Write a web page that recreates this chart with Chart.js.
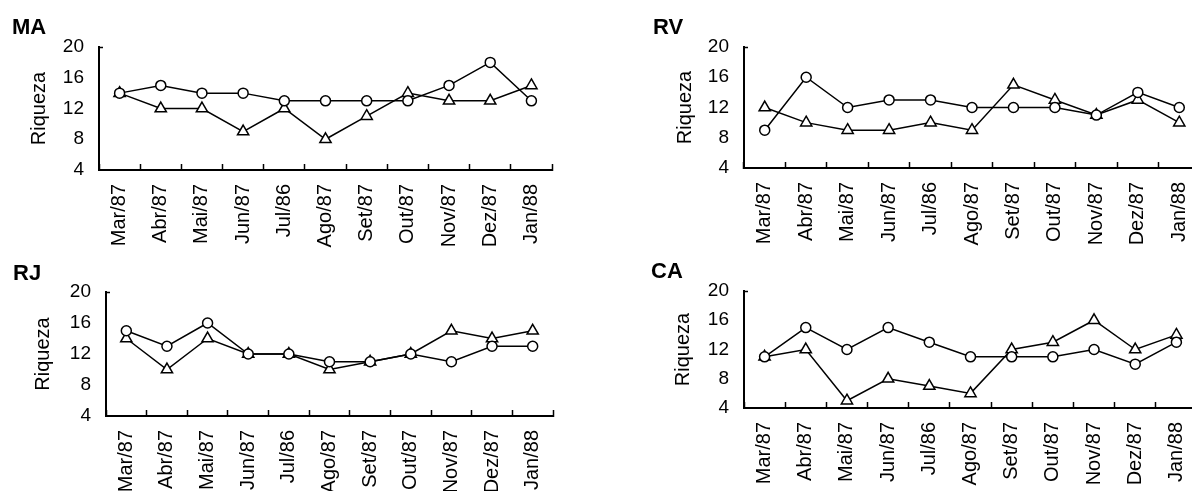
<!DOCTYPE html>
<html>
<head>
<meta charset="utf-8">
<script src="https://cdn.jsdelivr.net/npm/chart.js"></script>
<style>
  html, body { margin: 0; padding: 0; background: #fff; overflow: hidden; }
  body { width: 1192px; height: 491px; position: relative; }
  canvas { position: absolute; }
</style>
</head>
<body>
<canvas id="ma"></canvas>
<canvas id="rv"></canvas>
<canvas id="rj"></canvas>
<canvas id="ca"></canvas>
<script>
// meses de coleta (eixo X)
const meses = ["Mar/87", "Abr/87", "Mai/87", "Jun/87", "Jul/86", "Ago/87", "Set/87", "Out/87", "Nov/87", "Dez/87", "Jan/88"];
const ticksRiqueza = [4, 8, 12, 16, 20];

// riqueza por local: série com círculos e série com triângulos
const maCirculo   = [14, 15, 14, 14, 13, 13, 13, 13, 15, 18, 13];
const maTriangulo = [14, 12, 12, 9, 12, 8, 11, 14, 13, 13, 15];

const rvCirculo   = [9, 16, 12, 13, 13, 12, 12, 12, 11, 14, 12];
const rvTriangulo = [12, 10, 9, 9, 10, 9, 15, 13, 11, 13, 10];

const rjCirculo   = [15, 13, 16, 12, 12, 11, 11, 12, 11, 13, 13];
const rjTriangulo = [14, 10, 14, 12, 12, 10, 11, 12, 15, 14, 15];

const caCirculo   = [11, 15, 12, 15, 13, 11, 11, 11, 12, 10, 13];
const caTriangulo = [11, 12, 5, 8, 7, 6, 12, 13, 16, 12, 14];

const FONTE = "'Liberation Sans', Arial, Helvetica, sans-serif";

// posição de cada painel na página
const paineis = [
    { id: 'ma', titulo: 'MA', circulo: maCirculo, triangulo: maTriangulo,
      x: 0, y: 0, w: 560, h: 250, padL: 12, padTop: 14.3, gapTitulo: 6.3, yLarg: 87, yTitPad: 15, xAlt: 80 },
    { id: 'rv', titulo: 'RV', circulo: rvCirculo, triangulo: rvTriangulo,
      x: 650, y: 0, w: 558, h: 250, padL: 3, padTop: 14.3, gapTitulo: 6.3, yLarg: 91, yTitPad: 20, xAlt: 82 },
    { id: 'rj', titulo: 'RJ', circulo: rjCirculo, triangulo: rjTriangulo,
      x: 0, y: 250, w: 561, h: 241, padL: 13, padTop: 10.3, gapTitulo: 5.3, yLarg: 93, yTitPad: 18, xAlt: 75 },
    { id: 'ca', titulo: 'CA', circulo: caCirculo, triangulo: caTriangulo,
      x: 650, y: 250, w: 555, h: 241, padL: 1, padTop: 8.8, gapTitulo: 5.8, yLarg: 93, yTitPad: 20, xAlt: 83 }
];

paineis.forEach(p => {
    const canvas = document.getElementById(p.id);
    canvas.width = p.w;
    canvas.height = p.h;
    canvas.style.left = p.x + 'px';
    canvas.style.top = p.y + 'px';

    new Chart(canvas.getContext('2d'), {
        type: 'line',
        data: {
            labels: meses,
            datasets: [{
                data: p.circulo,
                borderColor: '#000',
                borderWidth: 1.5,
                pointStyle: 'circle',
                pointRadius: 5,
                pointBackgroundColor: '#fff',
                pointBorderColor: '#000',
                pointBorderWidth: 1.5,
                tension: 0,
                fill: false
            }, {
                data: p.triangulo,
                borderColor: '#000',
                borderWidth: 1.5,
                pointStyle: 'triangle',
                pointRadius: 6.5,
                pointBackgroundColor: '#fff',
                pointBorderColor: '#000',
                pointBorderWidth: 1.5,
                tension: 0,
                fill: false
            }]
        },
        options: {
            responsive: false,
            animation: false,
            layout: {
                padding: { left: p.padL, top: p.padTop, right: 7, bottom: 0 }
            },
            plugins: {
                legend: { display: false },
                tooltip: { enabled: false },
                title: {
                    display: true,
                    text: p.titulo,
                    align: 'start',
                    color: '#000',
                    font: { family: FONTE, size: 22, weight: 'bold' },
                    padding: { top: 0, bottom: p.gapTitulo }
                }
            },
            scales: {
                x: {
                    type: 'category',
                    offset: true,
                    afterFit: s => {
                        s.height = p.xAlt;
                        // os rótulos girados não devem encolher a área do gráfico
                        s.paddingLeft = 0;
                        s.paddingRight = 0;
                    },
                    border: { display: true, color: '#000', width: 2 },
                    grid: {
                        offset: true,
                        drawOnChartArea: false,
                        drawTicks: true,
                        tickLength: -6,
                        tickColor: '#000',
                        tickWidth: 1.5
                    },
                    ticks: {
                        autoSkip: false,
                        minRotation: 90,
                        maxRotation: 90,
                        padding: 20,
                        color: '#000',
                        font: { family: FONTE, size: 20 }
                    }
                },
                y: {
                    min: ticksRiqueza[0],
                    max: ticksRiqueza[ticksRiqueza.length - 1],
                    afterBuildTicks: s => { s.ticks = ticksRiqueza.map(v => ({ value: v })); },
                    afterFit: s => { s.width = p.yLarg; },
                    border: { display: true, color: '#000', width: 2 },
                    grid: {
                        drawOnChartArea: false,
                        drawTicks: true,
                        tickLength: -4,
                        tickWidth: 1.5,
                        tickColor: c => (c.tick && c.tick.value === 20) ? '#000' : 'rgba(0,0,0,0)'
                    },
                    ticks: {
                        padding: 19,
                        color: '#000',
                        font: { family: FONTE, size: 19 }
                    },
                    title: {
                        display: true,
                        text: 'Riqueza',
                        color: '#000',
                        font: { family: FONTE, size: 20 },
                        padding: { top: p.yTitPad, bottom: 0 }
                    }
                }
            }
        }
    });
});
</script>
</body>
</html>
